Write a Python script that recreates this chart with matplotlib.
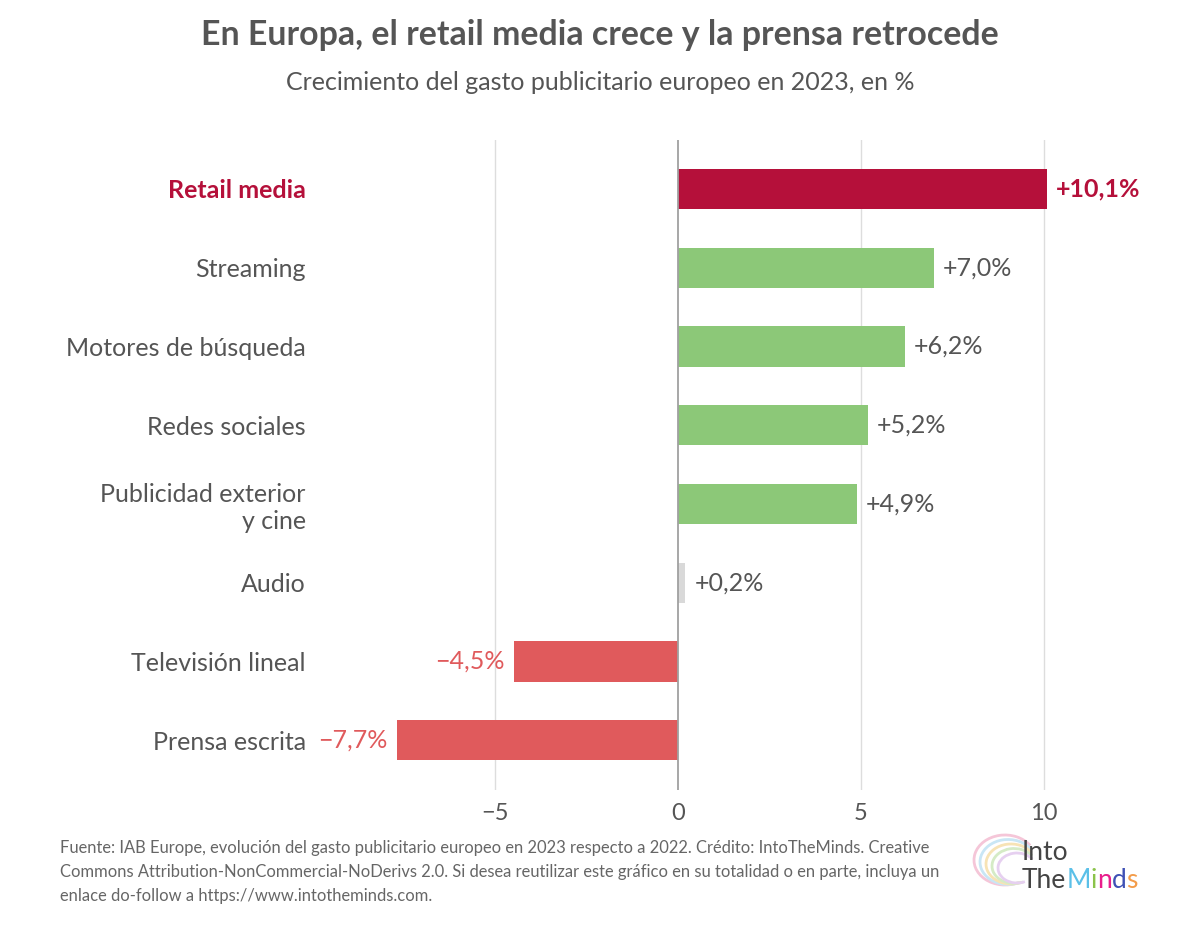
import numpy as np
import matplotlib.pyplot as plt
from matplotlib.patches import Arc

plt.rcParams['font.family'] = ['Lato', 'DejaVu Sans']

categories = ['Retail media', 'Streaming', 'Motores de búsqueda', 'Redes sociales',
              'Publicidad exterior\ny cine', 'Audio', 'Televisión lineal', 'Prensa escrita']
values = [10.1, 7.0, 6.2, 5.2, 4.9, 0.2, -4.5, -7.7]
labels = ['+10,1%', '+7,0%', '+6,2%', '+5,2%', '+4,9%', '+0,2%', '\u22124,5%', '\u22127,7%']
ticks = [-5, 0, 5, 10]
tick_labels = ['\u22125', '0', '5', '10']

CRIMSON = '#B5103A'
GREEN = '#8CC878'
RED = '#E05A5C'
GREY = '#D9D9D9'
TXT = '#555555'

colors = []
for c, v in zip(categories, values):
    if c == 'Retail media':
        colors.append(CRIMSON)
    elif abs(v) < 1:
        colors.append(GREY)
    elif v > 0:
        colors.append(GREEN)
    else:
        colors.append(RED)

W, H = 1200, 927
fig = plt.figure(figsize=(W / 100, H / 100), dpi=100)
ax_l, ax_r, ax_t, ax_b = 310, 1150, 140, 790
ax = fig.add_axes([ax_l / W, 1 - ax_b / H, (ax_r - ax_l) / W, (ax_b - ax_t) / H])

y = np.arange(len(categories))
ax.barh(y, values, height=0.51, color=colors, zorder=3)

ax.set_ylim(len(categories) - 0.37, -0.62)
ppu = 36.55
ax.set_xlim((ax_l - 678) / ppu, (ax_r - 678) / ppu)

for t in ticks:
    ax.axvline(t, color='#A0A0A0' if t == 0 else '#DDDDDD', lw=1.3 if t == 0 else 1.0, zorder=4 if t == 0 else 1)

for yi, v, lab, col in zip(y, values, labels, colors):
    bold = col == CRIMSON
    tc = CRIMSON if bold else (RED if v < 0 else TXT)
    if v >= 0:
        ax.text(v + 0.25, yi, lab, va='center', ha='left', fontsize=18, color=tc,
                fontweight='bold' if bold else 'normal')
    else:
        ax.text(v - 0.25, yi, lab, va='center', ha='right', fontsize=18, color=tc)

ax.set_yticks(y)
ax.set_yticklabels(categories, fontsize=18, color=TXT)
for tl, col in zip(ax.get_yticklabels(), colors):
    if col == CRIMSON:
        tl.set_color(CRIMSON)
        tl.set_fontweight('bold')
ax.set_xticks(ticks)
ax.set_xticklabels(tick_labels, fontsize=17, color=TXT)
ax.tick_params(axis='both', length=0)
ax.tick_params(axis='y', pad=3)
ax.tick_params(axis='x', pad=9)
for s in ax.spines.values():
    s.set_visible(False)

fig.text(600 / W, 1 - 35 / H, 'En Europa, el retail media crece y la prensa retrocede',
         ha='center', va='center', fontsize=24.4, fontweight='bold', color=TXT)
fig.text(600 / W, 1 - 83 / H, 'Crecimiento del gasto publicitario europeo en 2023, en %',
         ha='center', va='center', fontsize=18, color=TXT)
fig.text(60 / W, 1 - 840 / H,
         'Fuente: IAB Europe, evolución del gasto publicitario europeo en 2023 respecto a 2022. Crédito: IntoTheMinds. Creative\n'
         'Commons Attribution-NonCommercial-NoDerivs 2.0. Si desea reutilizar este gráfico en su totalidad o en parte, incluya un\n'
         'enlace do-follow a https://www.intotheminds.com.',
         ha='left', va='top', fontsize=11.9, color='#666666', linespacing=1.6)

# logo: faint brain outline plus coloured wordmark
lax = fig.add_axes([0, 0, 1, 1], zorder=-1)
lax.set_xlim(0, W)
lax.set_ylim(H, 0)
lax.axis('off')
arc_cols = ['#F5C6D8', '#C9E6F5', '#F7E3B5', '#D5EBC6', '#E6D0F0']
for i, c in enumerate(arc_cols):
    lax.add_patch(Arc((1005 + i * 3, 860 + i * 2), 62 - i * 6, 50 - i * 5,
                      theta1=60, theta2=330, color=c, lw=2))

fig.text(1022 / W, 1 - 852 / H, 'Into', ha='left', va='center', fontsize=19, color='#444444')
logo = [('The', '#444444'), ('M', '#5BC0E8'), ('i', '#8BC34A'), ('n', '#E91E8C'), ('d', '#3F51B5'), ('s', '#F39C4A')]
x0 = 1022
r = fig.canvas.get_renderer()
for s, c in logo:
    t = fig.text(x0 / W, 1 - 880 / H, s, ha='left', va='center', fontsize=19, color=c)
    x0 += t.get_window_extent(renderer=r).width

fig.savefig('out.png', dpi=100, facecolor='white')
